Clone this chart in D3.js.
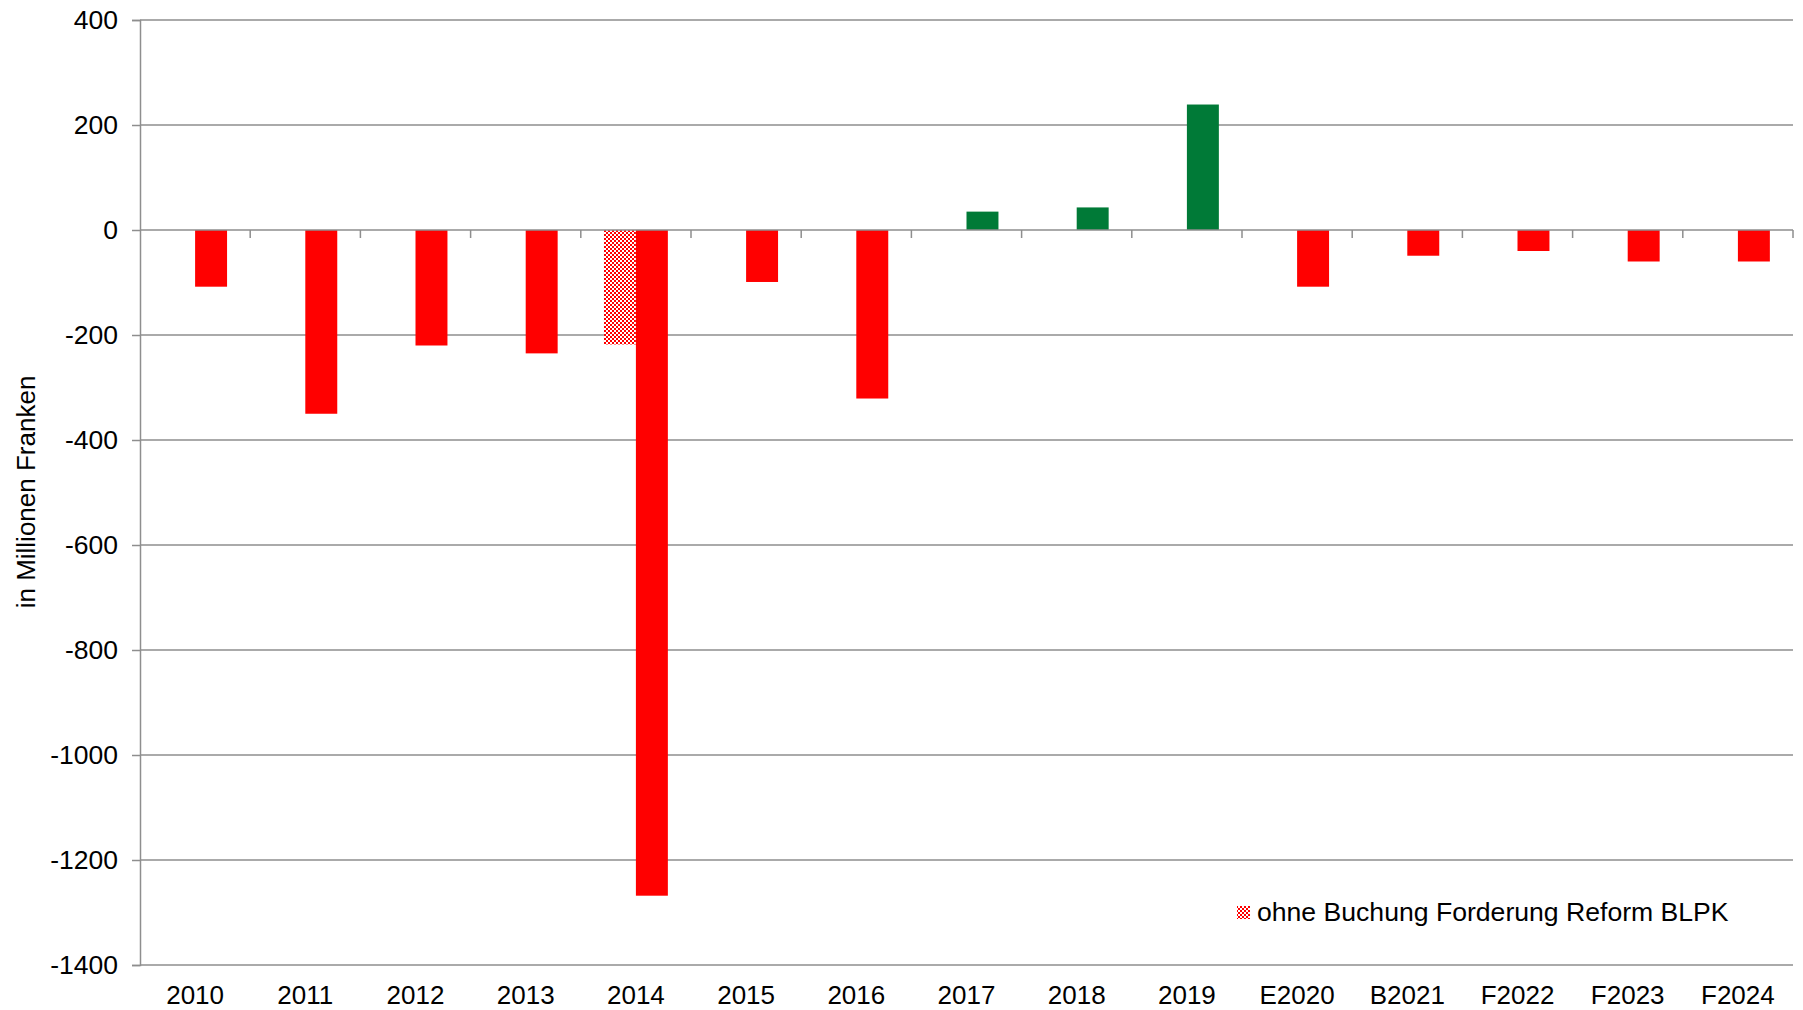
<!DOCTYPE html>
<html>
<head>
<meta charset="utf-8">
<script src="https://cdn.jsdelivr.net/npm/d3@7"></script>
<style>
  html, body { margin: 0; padding: 0; background: #fff; }
  svg text { font-family: "Liberation Sans", Arial, sans-serif; fill: #000; }
</style>
</head>
<body>
<div id="chart"></div>
<script>
// values in millions of francs
var categories = ['2010', '2011', '2012', '2013', '2014', '2015', '2016', '2017', '2018', '2019', 'E2020', 'B2021', 'F2022', 'F2023', 'F2024'];
var saldo = [-108, -350, -220, -235, -1268, -99, -321, 35, 43, 239, -108, -49, -40, -60, -60];
var ohneBuchung = [null, null, null, null, -218, null, null, null, null, null, null, null, null, null, null];
var yTicks = [400, 200, 0, -200, -400, -600, -800, -1000, -1200, -1400];
var legendLabel = 'ohne Buchung Forderung Reform BLPK';
var yTitle = 'in Millionen Franken';

var width = 1803, height = 1010;
var plotLeft = 140, plotRight = 1793, plotTop = 20, plotBottom = 965;
var red = '#ff0000', green = '#007a37', grid = '#8e8e8e';

var svg = d3.select('#chart').append('svg')
    .attr('width', width)
    .attr('height', height);

// red/white checker used for the "ohne Buchung" series
var pat = svg.append('defs').append('pattern')
    .attr('id', 'checker')
    .attr('patternUnits', 'userSpaceOnUse')
    .attr('width', 4)
    .attr('height', 4);
pat.append('rect').attr('width', 4).attr('height', 4).attr('fill', red);
pat.append('rect').attr('x', 0).attr('y', 0).attr('width', 2).attr('height', 2).attr('fill', '#fff');
pat.append('rect').attr('x', 2).attr('y', 2).attr('width', 2).attr('height', 2).attr('fill', '#fff');

var x = d3.scaleBand().domain(categories).range([plotLeft, plotRight]).padding(0);
var y = d3.scaleLinear().domain([-1400, 400]).range([plotBottom, plotTop]);
var barW = x.bandwidth() * 0.29;

// gridlines
svg.append('g').selectAll('line')
    .data(yTicks.filter(function (d) { return d !== 0; }))
    .enter().append('line')
    .attr('x1', plotLeft).attr('x2', plotRight)
    .attr('y1', function (d) { return y(d); })
    .attr('y2', function (d) { return y(d); })
    .attr('stroke', grid).attr('stroke-width', 1.5);

// y axis
var yAxis = svg.append('g')
    .attr('transform', 'translate(' + plotLeft + ',0)')
    .call(d3.axisLeft(y).tickValues(yTicks).tickSize(8).tickPadding(14)
        .tickFormat(function (d) { return String(d); }));
yAxis.select('.domain').attr('stroke', grid).attr('stroke-width', 1.5);
yAxis.selectAll('.tick line').attr('stroke', grid).attr('stroke-width', 1.5);
yAxis.selectAll('.tick text')
    .style('font-family', '"Liberation Sans", Arial, sans-serif')
    .style('font-size', '26.5px')
    .attr('fill', '#000');

// patterned bars (left of centre)
svg.append('g').selectAll('rect')
    .data(categories.map(function (c, i) { return { c: c, v: ohneBuchung[i] }; })
        .filter(function (d) { return d.v !== null; }))
    .enter().append('rect')
    .attr('x', function (d) { return x(d.c) + x.bandwidth() / 2 - barW; })
    .attr('width', barW)
    .attr('y', function (d) { return y(Math.max(0, d.v)); })
    .attr('height', function (d) { return Math.abs(y(d.v) - y(0)); })
    .attr('fill', 'url(#checker)');

// main bars (right of centre)
svg.append('g').selectAll('rect')
    .data(categories.map(function (c, i) { return { c: c, v: saldo[i] }; }))
    .enter().append('rect')
    .attr('x', function (d) { return x(d.c) + x.bandwidth() / 2; })
    .attr('width', barW)
    .attr('y', function (d) { return y(Math.max(0, d.v)); })
    .attr('height', function (d) { return Math.abs(y(d.v) - y(0)); })
    .attr('fill', function (d) { return d.v >= 0 ? green : red; });

// zero axis with category ticks
var zero = svg.append('g');
zero.append('line')
    .attr('x1', plotLeft).attr('x2', plotRight)
    .attr('y1', y(0)).attr('y2', y(0))
    .attr('stroke', grid).attr('stroke-width', 1.5);
zero.selectAll('line.tk')
    .data(categories.slice(1).map(function (c) { return x(c); }).concat([plotRight]))
    .enter().append('line')
    .attr('class', 'tk')
    .attr('x1', function (d) { return d; }).attr('x2', function (d) { return d; })
    .attr('y1', y(0)).attr('y2', y(0) + 8)
    .attr('stroke', grid).attr('stroke-width', 1.5);

// category labels
svg.append('g').selectAll('text')
    .data(categories)
    .enter().append('text')
    .attr('x', function (d) { return x(d) + x.bandwidth() / 2; })
    .attr('y', 1004)
    .attr('text-anchor', 'middle')
    .style('font-size', '26px')
    .text(function (d) { return d; });

// y title
svg.append('text')
    .attr('transform', 'translate(35,492) rotate(-90)')
    .attr('text-anchor', 'middle')
    .style('font-size', '26px')
    .text(yTitle);

// legend
svg.append('rect')
    .attr('x', 1237).attr('y', 906)
    .attr('width', 13).attr('height', 13)
    .attr('fill', 'url(#checker)');
svg.append('text')
    .attr('x', 1257).attr('y', 921)
    .style('font-size', '26.6px')
    .text(legendLabel);
</script>
</body>
</html>
